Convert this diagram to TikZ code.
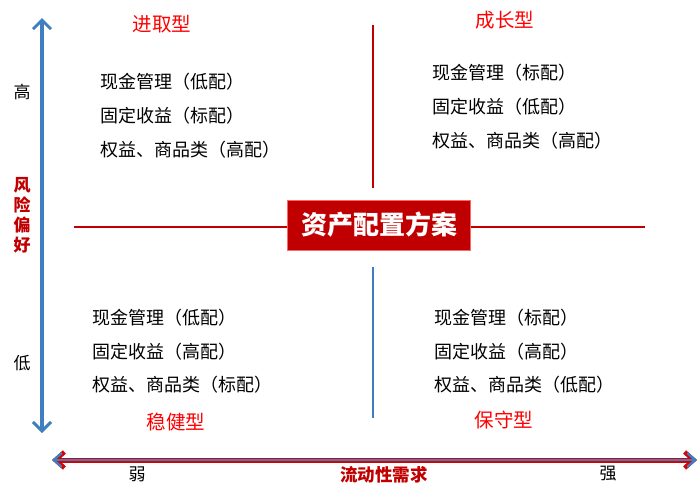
\documentclass[tikz,border=0pt]{standalone}
\usepackage{fontspec}
\setmainfont{Noto Sans CJK SC}
\usetikzlibrary{arrows.meta}
\definecolor{dred}{HTML}{C00000}
\definecolor{sblue}{HTML}{3F7FBF}
\begin{document}
\begin{tikzpicture}[x=1pt,y=-1pt,
  txt/.style={font=\fontsize{18}{20}\selectfont,anchor=west,inner sep=0},
  ttl/.style={font=\fontsize{19.5}{21}\selectfont,text=red,inner sep=0},
  lbl/.style={font=\fontsize{17}{19}\selectfont,inner sep=0}]
\useasboundingbox (0,0) rectangle (700,498);
% vertical axis
\coordinate (vt) at (42,18); \coordinate (vb) at (42,433);
\draw[sblue,line width=3.5pt,{Straight Barb[length=9pt,width=18pt,line width=3pt]}-{Straight Barb[length=9pt,width=18pt,line width=3pt]}] (vt) -- (vb);
% horizontal axis
\coordinate (hl) at (52,460); \coordinate (hr) at (697,460);
\draw[red!85!black,line width=5pt,{Straight Barb[length=9pt,width=16pt,line width=4.5pt]}-{Straight Barb[length=9pt,width=16pt,line width=4.5pt]}] (hl) -- (hr);
\draw[sblue,line width=2.5pt,{Straight Barb[length=8pt,width=14pt,line width=2.3pt]}-{Straight Barb[length=8pt,width=14pt,line width=2.3pt]}] (hl) -- (hr);
% center
\node[fill=dred,draw=red!60,minimum width=183pt,minimum height=50pt,text=white,font=\fontsize{26}{28}\selectfont\bfseries] (c) at (379,225) {资产配置方案};
\coordinate (l1) at (74,227); \coordinate (r1) at (645,227);
\coordinate (t1) at (373,25); \coordinate (b1) at (373,418);
\draw[dred,line width=2.5pt] (l1) -- (c.west|-l1);
\draw[dred,line width=2.5pt] (c.east|-r1) -- (r1);
\draw[dred,line width=2.5pt] (t1) -- (373,188);
\draw[sblue,line width=2.5pt] (373,267) -- (b1);
% titles
\node[ttl] (a) at (162,24) {进取型};
\node[ttl] (b) at (505,20) {成长型};
\node[ttl] (d) at (176,422) {稳健型};
\node[ttl] (e) at (504,420) {保守型};
\node[lbl] (hi) at (22,92) {高};
\node[lbl] (lo) at (22,363) {低};
\node[lbl,text=dred,font=\fontsize{17}{20}\selectfont\bfseries,align=center] (fx) at (22,215) {风\\险\\偏\\好};
\node[lbl] (w) at (137,474) {弱};
\node[lbl] (s) at (608,474) {强};
\node[lbl,text=dred,font=\fontsize{17.5}{20}\selectfont\bfseries] (ld) at (384,475) {流动性需求};
% lists
\node[txt] (q1) at (100,82) {现金管理（低配）};
\node[txt] (q2) at (100,116) {固定收益（标配）};
\node[txt] (q3) at (100,150) {权益、商品类（高配）};
\node[txt] (p1) at (432,73) {现金管理（标配）};
\node[txt] (p2) at (432,107) {固定收益（低配）};
\node[txt] (p3) at (432,141) {权益、商品类（高配）};
\node[txt] (m1) at (92,318) {现金管理（低配）};
\node[txt] (m2) at (92,352) {固定收益（高配）};
\node[txt] (m3) at (92,385) {权益、商品类（标配）};
\node[txt] (n1) at (434,318) {现金管理（标配）};
\node[txt] (n2) at (434,352) {固定收益（高配）};
\node[txt] (n3) at (434,385) {权益、商品类（低配）};
\end{tikzpicture}
\end{document}
